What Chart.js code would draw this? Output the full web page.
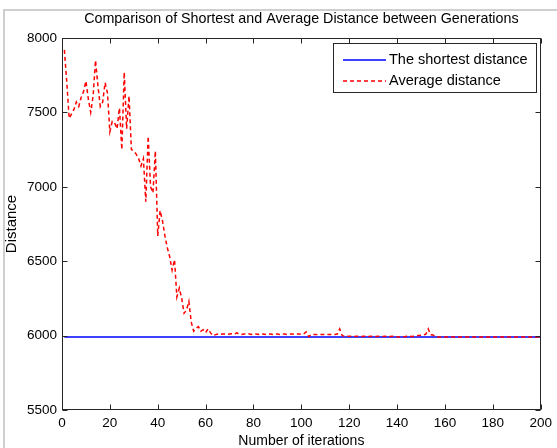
<!DOCTYPE html>
<html>
<head>
<meta charset="utf-8">
<script src="https://cdn.jsdelivr.net/npm/chart.js@4.4.0/dist/chart.umd.min.js"></script>
<style>
    html, body { margin: 0; padding: 0; background: #fff; }
    #wrap { width: 557px; height: 448px; }
</style>
</head>
<body>
<div id="wrap"><canvas id="chart" width="557" height="448"></canvas></div>
<script>
(function () {
    const chartTitle = "Comparison of Shortest and Average Distance between Generations";
    const iterations = Array.from({ length: 200 }, (_, i) => i + 1);

    const shortestDistance = [
        5990, 5990, 5990, 5990, 5990, 5990, 5990, 5990, 5990, 5990, 5990, 5990, 5990, 5990, 5990, 5990, 5990, 5990, 5990, 5990,
        5990, 5990, 5990, 5990, 5990, 5990, 5990, 5990, 5990, 5990, 5990, 5990, 5990, 5990, 5990, 5990, 5990, 5990, 5990, 5990,
        5990, 5990, 5990, 5990, 5990, 5990, 5990, 5990, 5990, 5990, 5990, 5990, 5990, 5990, 5990, 5990, 5990, 5990, 5990, 5990,
        5990, 5990, 5990, 5990, 5990, 5990, 5990, 5990, 5990, 5990, 5990, 5990, 5990, 5990, 5990, 5990, 5990, 5990, 5990, 5990,
        5990, 5990, 5990, 5990, 5990, 5990, 5990, 5990, 5990, 5990, 5990, 5990, 5990, 5990, 5990, 5990, 5990, 5990, 5990, 5990,
        5990, 5990, 5990, 5990, 5990, 5990, 5990, 5990, 5990, 5990, 5990, 5990, 5990, 5990, 5990, 5990, 5990, 5990, 5990, 5990,
        5990, 5990, 5990, 5990, 5990, 5990, 5990, 5990, 5990, 5990, 5990, 5990, 5990, 5990, 5990, 5990, 5990, 5990, 5990, 5990,
        5990, 5990, 5990, 5990, 5990, 5990, 5990, 5990, 5990, 5990, 5990, 5990, 5990, 5990, 5990, 5990, 5990, 5990, 5990, 5990,
        5990, 5990, 5990, 5990, 5990, 5990, 5990, 5990, 5990, 5990, 5990, 5990, 5990, 5990, 5990, 5990, 5990, 5990, 5990, 5990,
        5990, 5990, 5990, 5990, 5990, 5990, 5990, 5990, 5990, 5990, 5990, 5990, 5990, 5990, 5990, 5990, 5990, 5990, 5990, 5990
    ];

    const averageDistance = [
        7920, 7700, 7460, 7490, 7520, 7570, 7540, 7600, 7640, 7710, 7590, 7500, 7610, 7850, 7680, 7540, 7570, 7700, 7630, 7370,
        7440, 7430, 7390, 7530, 7250, 7770, 7390, 7610, 7250, 7240, 7220, 7190, 7140, 7190, 6900, 7340, 7000, 6960, 7240, 6670,
        6840, 6770, 6670, 6590, 6530, 6440, 6510, 6260, 6320, 6250, 6150, 6170, 6230, 6090, 6030, 6050, 6060, 6030, 6040, 6020,
        6045, 6020, 6000, 6005, 6010, 6008, 6010, 6010, 6008, 6010, 6012, 6010, 6018, 6010, 6008, 6010, 6010, 6012, 6008, 6010,
        6010, 6008, 6014, 6010, 6008, 6010, 6010, 6008, 6010, 6010, 6008, 6010, 6010, 6008, 6010, 6010, 6008, 6010, 6010, 6008,
        6012, 6025, 5993, 6005, 6008, 6008, 6006, 6008, 6008, 6006, 6008, 6008, 6006, 6008, 6010, 6045, 6002, 5994, 5995, 5995,
        5995, 5994, 5995, 5995, 5994, 5995, 5995, 5994, 5995, 5995, 5994, 5995, 5995, 5994, 5995, 5995, 5994, 5995, 5995, 5992,
        5990, 5992, 5993, 5995, 5996, 5994, 5996, 5998, 6000, 6002, 6005, 6010, 6045, 6006, 6004, 5995, 5990, 5990, 5990, 5990,
        5990, 5990, 5990, 5990, 5990, 5990, 5990, 5990, 5990, 5990, 5990, 5990, 5990, 5990, 5990, 5990, 5990, 5990, 5990, 5990,
        5990, 5990, 5990, 5990, 5990, 5990, 5990, 5990, 5990, 5990, 5990, 5990, 5990, 5990, 5990, 5990, 5990, 5990, 5990, 5990
    ];

    const xTicks = [0, 20, 40, 60, 80, 100, 120, 140, 160, 180, 200];
    const yTicks = [5500, 6000, 6500, 7000, 7500, 8000];

    const fontFamily = "'Liberation Sans', Arial, sans-serif";
    const axisColor = "#262626";

    // matlab-like frame: title over the axes, box, inward ticks on all four sides, boxed legend
    const matlabFrame = {
        id: "matlabFrame",
        beforeDraw(chart) {
            const { ctx, chartArea: a } = chart;
            ctx.save();
            ctx.fillStyle = "#fff";
            ctx.fillRect(0, 0, chart.width, chart.height);
            ctx.strokeStyle = "#cfcfcf";
            ctx.lineWidth = 2;
            ctx.beginPath();
            ctx.moveTo(4, chart.height);
            ctx.lineTo(4, 10);
            ctx.lineTo(chart.width, 10);
            ctx.stroke();

            ctx.fillStyle = "#000";
            ctx.font = `14.3px ${fontFamily}`;
            ctx.textAlign = "center";
            ctx.textBaseline = "middle";
            ctx.fillText(chartTitle, (a.left + a.right) / 2, 19);
            ctx.restore();
        },
        afterDatasetsDraw(chart) {
            const { ctx, chartArea: a, scales: { x, y } } = chart;
            ctx.save();
            ctx.strokeStyle = axisColor;
            ctx.lineWidth = 1;
            const l = Math.round(a.left) + 0.5, r = Math.round(a.right) - 0.5;
            const t = Math.round(a.top) + 0.5, b = Math.round(a.bottom) - 0.5;
            ctx.strokeRect(l, t, r - l, b - t);

            ctx.beginPath();
            xTicks.forEach((v) => {
                const px = Math.round(x.getPixelForValue(v)) + 0.5;
                ctx.moveTo(px, b); ctx.lineTo(px, b - 5);
                ctx.moveTo(px, t); ctx.lineTo(px, t + 5);
            });
            yTicks.forEach((v) => {
                const py = Math.round(y.getPixelForValue(v)) + 0.5;
                ctx.moveTo(l, py); ctx.lineTo(l + 5, py);
                ctx.moveTo(r, py); ctx.lineTo(r - 5, py);
            });
            ctx.stroke();

            // legend box
            const box = { x: 333.5, y: 43.5, w: 203, h: 49 };
            ctx.fillStyle = "#fff";
            ctx.fillRect(box.x, box.y, box.w, box.h);
            ctx.strokeRect(box.x, box.y, box.w, box.h);
            ctx.font = `14.5px ${fontFamily}`;
            ctx.textBaseline = "middle";
            chart.data.datasets.forEach((ds, i) => {
                const ly = 60 + i * 21;
                ctx.strokeStyle = ds.borderColor;
                ctx.lineWidth = ds.borderWidth;
                ctx.setLineDash(ds.borderDash || []);
                ctx.beginPath();
                ctx.moveTo(343, ly);
                ctx.lineTo(386, ly);
                ctx.stroke();
                ctx.setLineDash([]);
                ctx.fillStyle = "#000";
                ctx.fillText(ds.label, 389, ly);
            });
            ctx.restore();
        }
    };

    new Chart(document.getElementById("chart"), {
        type: "line",
        data: {
            labels: iterations,
            datasets: [
                { label: "The shortest distance", data: shortestDistance, borderColor: "#0000ff", borderWidth: 1.5, pointRadius: 0, tension: 0, order: 1 },
                { label: "Average distance", data: averageDistance, borderColor: "#ff0000", borderWidth: 1.5, borderDash: [4, 3], pointRadius: 0, tension: 0, order: 0 }
            ]
        },
        options: {
            responsive: false,
            animation: false,
            layout: { padding: { left: 0, right: 16, top: 38, bottom: 0 } },
            plugins: {
                legend: { display: false },
                tooltip: { enabled: false },
                title: { display: false }
            },
            scales: {
                x: {
                    type: "linear",
                    min: 0,
                    max: 200,
                    afterFit: (scale) => { scale.height = 38; },
                    afterBuildTicks: (scale) => { scale.ticks = xTicks.map((v) => ({ value: v })); },
                    grid: { display: false, drawTicks: false },
                    border: { display: false },
                    ticks: { autoSkip: false, maxRotation: 0, padding: 5, color: "#000", font: { family: fontFamily, size: 13.5 }, callback: (v) => String(v) },
                    title: { display: true, text: "Number of iterations", color: "#000", font: { family: fontFamily, size: 14 }, padding: { top: 0, bottom: -1.5 } }
                },
                y: {
                    min: 5500,
                    max: 8000,
                    afterFit: (scale) => { scale.width = 62; },
                    afterBuildTicks: (scale) => { scale.ticks = yTicks.map((v) => ({ value: v })); },
                    grid: { display: false, drawTicks: false },
                    border: { display: false },
                    ticks: { padding: 5, color: "#000", font: { family: fontFamily, size: 13.5 }, callback: (v) => String(v) },
                    title: { display: true, text: "Distance", color: "#000", font: { family: fontFamily, size: 15 }, padding: { top: 3, bottom: 0 } }
                }
            }
        },
        plugins: [matlabFrame]
    });
})();
</script>
</body>
</html>
